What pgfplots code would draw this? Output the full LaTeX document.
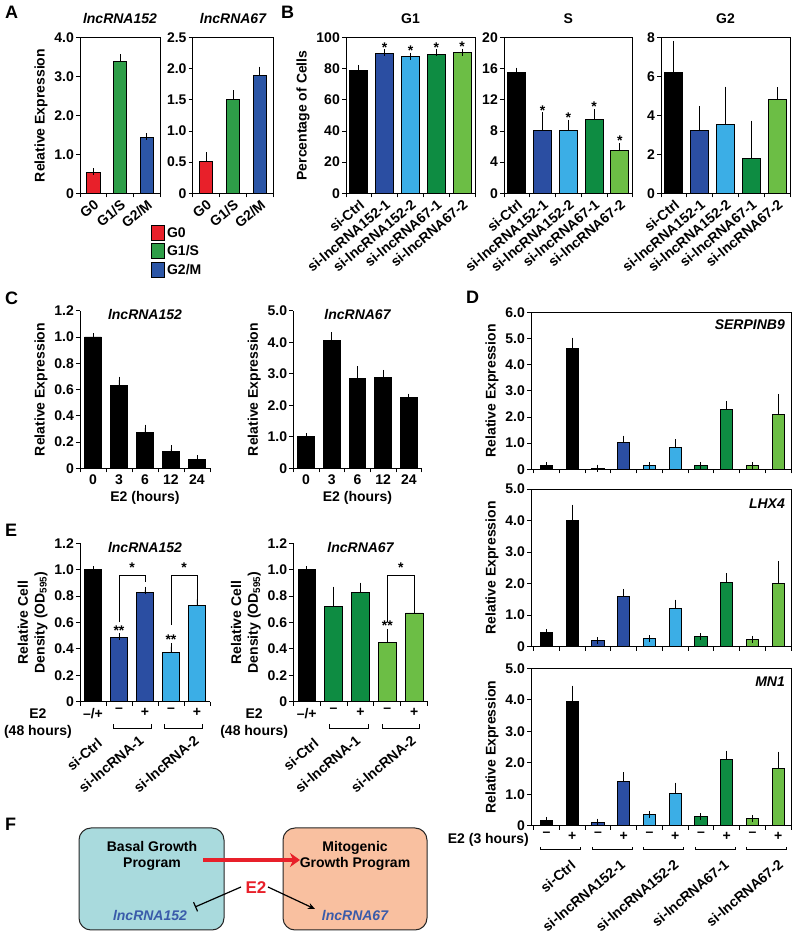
\documentclass[border=0pt]{standalone}
\usepackage{fontspec}
\setmainfont{Liberation Sans}
\usepackage{pgfplots}
\pgfplotsset{compat=1.18}
\usetikzlibrary{arrows.meta}
\definecolor{cRed}{HTML}{E8202A}
\definecolor{cGrA}{HTML}{2E9E48}
\definecolor{cBlA}{HTML}{2C56A6}
\definecolor{cDB}{HTML}{2B4EA2}
\definecolor{cLB}{HTML}{3BAEE6}
\definecolor{cDG}{HTML}{0E8C42}
\definecolor{cLG}{HTML}{6CBE45}
\definecolor{cTeal}{HTML}{A9DADD}
\definecolor{cPeach}{HTML}{F9C0A0}
\definecolor{cTxt}{HTML}{3A5BAA}
\pgfplotsset{
 base/.style={scale only axis, clip=false, ymin=0,
   tick align=outside, major tick length=4pt,
   every tick/.style={black, line width=0.9pt},
   axis line style={line width=0.9pt},
   xtick pos=left, ytick pos=left,
   x tick label as interval,
   xticklabel style={inner sep=2pt},
   yticklabel style={inner sep=2pt},
   /pgf/number format/assume math mode=true,
   title style={yshift=3pt},
 },
 open/.style={axis x line*=bottom, axis y line*=left},
 rot/.style={xticklabel style={rotate=40, anchor=north east, inner sep=1pt}},
 bs/.style={ybar, bar width=#1, bar shift=0pt, draw=black, line width=0.9pt,
   error bars/y dir=plus, error bars/y explicit,
   error bars/error bar style={line width=0.9pt,black},
   error bars/error mark options={line width=0.9pt, black, mark size=3.5pt}},
}
\begin{document}
\fontsize{14}{16.8}\selectfont\bfseries
\begin{tikzpicture}
\useasboundingbox (0pt,0pt) rectangle (800pt,947pt);
\tikzset{plab/.style={anchor=north west, inner sep=0pt, font=\fontsize{18}{20}\selectfont\bfseries}}
\node[plab] at (5pt,941pt) {A};
\node[plab] at (281pt,941pt) {B};
\node[plab] at (5pt,655pt) {C};
\node[plab] at (466pt,656pt) {D};
\node[plab] at (5pt,423pt) {E};
\node[plab] at (5pt,129pt) {F};

% ---------------- A ----------------
\begin{axis}[base, rot, at={(80pt,753.7pt)}, width=80pt, height=155.6pt,
  xmin=-0.5, xmax=2.5, ymax=4,
  ytick={0,1,2,3,4}, yticklabels={0,1.0,2.0,3.0,4.0},
  xtick={-0.5,0.5,1.5,2.5}, xticklabels={G0,G1/S,G2/M},
  ylabel={Relative Expression},
  title={\itshape lncRNA152},
  legend style={at={(0.85,-0.19)}, anchor=north west, draw=none, fill=none, row sep=2pt, legend cell align=left},
  legend image code/.code={\draw[#1,draw=black,line width=0.9pt] (0pt,-7pt) rectangle (13pt,8pt);}]
\addplot[bs=0.5, fill=cRed] table[x=x,y=y,y error=e,row sep=\\]{x y e\\0 0.53 0.02\\};
\addlegendentry{G0}
\addplot[bs=0.5, fill=cGrA] table[x=x,y=y,y error=e,row sep=\\]{x y e\\1 3.38 0.10\\};
\addlegendentry{G1/S}
\addplot[bs=0.5, fill=cBlA] table[x=x,y=y,y error=e,row sep=\\]{x y e\\2 1.44 0.01\\};
\addlegendentry{G2/M}
\end{axis}
\begin{axis}[base, rot, at={(192.7pt,753.7pt)}, width=80.6pt, height=155.6pt,
  xmin=-0.5, xmax=2.5, ymax=2.5,
  ytick={0,0.5,1,1.5,2,2.5}, yticklabels={0,0.5,1.0,1.5,2.0,2.5},
  xtick={-0.5,0.5,1.5,2.5}, xticklabels={G0,G1/S,G2/M},
  title={\itshape lncRNA67}]
\addplot[bs=0.5, fill=cRed] table[x=x,y=y,y error=e,row sep=\\]{x y e\\0 0.51 0.09\\};
\addplot[bs=0.5, fill=cGrA] table[x=x,y=y,y error=e,row sep=\\]{x y e\\1 1.51 0.09\\};
\addplot[bs=0.5, fill=cBlA] table[x=x,y=y,y error=e,row sep=\\]{x y e\\2 1.89 0.09\\};
\end{axis}

% ---------------- B ----------------
\pgfplotsset{bstyle/.style={base, rot, width=129pt, height=155.6pt, xmin=-0.5, xmax=4.5,
  xtick={-0.5,0.5,1.5,2.5,3.5,4.5},
  xticklabels={si-Ctrl,si-lncRNA152-1,si-lncRNA152-2,si-lncRNA67-1,si-lncRNA67-2}}}
\begin{axis}[bstyle, at={(346pt,753.7pt)}, ymax=100, ytick={0,20,40,60,80,100},
  yticklabels={0,20,40,60,80,100}, ylabel={Percentage of Cells}, title={G1}]
\addplot[bs=0.7, fill=black] table[x=x,y=y,y error=e,row sep=\\]{x y e\\0 79.2 1.1\\};
\addplot[bs=0.7, fill=cDB] table[x=x,y=y,y error=e,row sep=\\]{x y e\\1 89.9 0.4\\};
\addplot[bs=0.7, fill=cLB] table[x=x,y=y,y error=e,row sep=\\]{x y e\\2 87.7 0.4\\};
\addplot[bs=0.7, fill=cDG] table[x=x,y=y,y error=e,row sep=\\]{x y e\\3 89.2 1.2\\};
\addplot[bs=0.7, fill=cLG] table[x=x,y=y,y error=e,row sep=\\]{x y e\\4 90.2 0.5\\};
\node[anchor=base, inner sep=0pt] at (axis cs:1,90.6) {*};
\node[anchor=base, inner sep=0pt] at (axis cs:2,88.4) {*};
\node[anchor=base, inner sep=0pt] at (axis cs:3,90.6) {*};
\node[anchor=base, inner sep=0pt] at (axis cs:4,90.9) {*};
\end{axis}
\begin{axis}[bstyle, at={(504pt,753.7pt)}, width=128.7pt, ymax=20, ytick={0,4,8,12,16,20},
  yticklabels={0,4,8,12,16,20}, title={S}]
\addplot[bs=0.7, fill=black] table[x=x,y=y,y error=e,row sep=\\]{x y e\\0 15.5 0.2\\};
\addplot[bs=0.7, fill=cDB] table[x=x,y=y,y error=e,row sep=\\]{x y e\\1 8.14 1.8\\};
\addplot[bs=0.7, fill=cLB] table[x=x,y=y,y error=e,row sep=\\]{x y e\\2 8.14 0.86\\};
\addplot[bs=0.7, fill=cDG] table[x=x,y=y,y error=e,row sep=\\]{x y e\\3 9.55 0.8\\};
\addplot[bs=0.7, fill=cLG] table[x=x,y=y,y error=e,row sep=\\]{x y e\\4 5.57 0.43\\};
\node[anchor=base, inner sep=0pt] at (axis cs:1,10.0) {*};
\node[anchor=base, inner sep=0pt] at (axis cs:2,9.1) {*};
\node[anchor=base, inner sep=0pt] at (axis cs:3,10.45) {*};
\node[anchor=base, inner sep=0pt] at (axis cs:4,6.1) {*};
\end{axis}
\begin{axis}[bstyle, at={(661pt,753.7pt)}, ymax=8, ytick={0,2,4,6,8},
  yticklabels={0,2,4,6,8}, title={G2}]
\addplot[bs=0.7, fill=black] table[x=x,y=y,y error=e,row sep=\\]{x y e\\0 6.22 1.44\\};
\addplot[bs=0.7, fill=cDB] table[x=x,y=y,y error=e,row sep=\\]{x y e\\1 3.25 1.07\\};
\addplot[bs=0.7, fill=cLB] table[x=x,y=y,y error=e,row sep=\\]{x y e\\2 3.53 1.78\\};
\addplot[bs=0.7, fill=cDG] table[x=x,y=y,y error=e,row sep=\\]{x y e\\3 1.78 1.78\\};
\addplot[bs=0.7, fill=cLG] table[x=x,y=y,y error=e,row sep=\\]{x y e\\4 4.80 0.46\\};
\end{axis}

% ---------------- C ----------------
\pgfplotsset{cstyle/.style={base, open, height=157.6pt, xmin=-0.5, xmax=4.5,
  xtick={-0.5,0.5,1.5,2.5,3.5,4.5}, xticklabels={0,3,6,12,24},
  xlabel={E2 (hours)}, ylabel={Relative Expression},
  title style={at={(0.5,0.98)}, anchor=north, yshift=0pt}}}
\begin{axis}[cstyle, at={(80pt,478.7pt)}, width=130pt, ymax=1.2,
  ytick={0,0.2,0.4,0.6,0.8,1,1.2}, yticklabels={0,0.2,0.4,0.6,0.8,1.0,1.2},
  title={\itshape lncRNA152}]
\addplot[bs=0.65, fill=black] table[x=x,y=y,y error=e,row sep=\\]{x y e\\0 1.0 0\\1 0.634 0.038\\2 0.271 0.034\\3 0.127 0.02\\4 0.068 0.003\\};
\end{axis}
\begin{axis}[cstyle, at={(293.3pt,478.7pt)}, width=128.4pt, ymax=5,
  ytick={0,1,2,3,4,5}, yticklabels={0,1.0,2.0,3.0,4.0,5.0},
  title={\itshape lncRNA67}]
\addplot[bs=0.65, fill=black] table[x=x,y=y,y error=e,row sep=\\]{x y e\\0 1.0 0\\1 4.05 0.16\\2 2.86 0.26\\3 2.89 0.12\\4 2.25 0.01\\};
\end{axis}

% ---------------- E ----------------
\pgfplotsset{estyle/.style={base, open, height=158.4pt, xmin=-0.5, xmax=4.5, ymax=1.2,
  ytick={0,0.2,0.4,0.6,0.8,1,1.2}, yticklabels={0,0.2,0.4,0.6,0.8,1.0,1.2},
  xtick={-0.5,0.5,1.5,2.5,3.5,4.5}, xticklabels={--/+,--,+,--,+},
  ylabel={Relative Cell\\Density (OD\textsubscript{595})}, ylabel style={align=center},
  title style={at={(0.5,0.98)}, anchor=north, yshift=0pt}}}
\begin{axis}[estyle, at={(80pt,245.3pt)}, width=130pt, title={\itshape lncRNA152}]
\addplot[bs=0.65, fill=black] table[x=x,y=y,y error=e,row sep=\\]{x y e\\0 1.0 0\\};
\addplot[bs=0.65, fill=cDB] table[x=x,y=y,y error=e,row sep=\\]{x y e\\1 0.487 0.004\\2 0.826 0.02\\};
\addplot[bs=0.65, fill=cLB] table[x=x,y=y,y error=e,row sep=\\]{x y e\\3 0.374 0.043\\4 0.732 0.043\\};
\node[anchor=base, inner sep=0pt] at (axis cs:1,0.505) {**};
\node[anchor=base, inner sep=0pt] at (axis cs:3,0.43) {**};
\draw[line width=0.9pt] (axis cs:1.02,0.6) -- (axis cs:1.02,0.96) -- (axis cs:2,0.96) -- (axis cs:2,0.91);
\draw[line width=0.9pt] (axis cs:3.02,0.58) -- (axis cs:3.02,0.96) -- (axis cs:4,0.96) -- (axis cs:4,0.785);
\node[anchor=base, inner sep=0pt] at (axis cs:1.5,0.975) {*};
\node[anchor=base, inner sep=0pt] at (axis cs:3.5,0.975) {*};
\node[anchor=north east, align=center, inner sep=0pt] at (axis cs:-0.81,-0.055) {E2\\(48 hours)};
\draw[line width=0.9pt] (axis cs:0.8,-0.17) -- (axis cs:0.8,-0.2) -- (axis cs:2.25,-0.2) -- (axis cs:2.25,-0.17);
\draw[line width=0.9pt] (axis cs:2.75,-0.17) -- (axis cs:2.75,-0.2) -- (axis cs:4.2,-0.2) -- (axis cs:4.2,-0.17);
\node[rotate=40, anchor=north east, inner sep=1pt] at (axis cs:0.14,-0.26) {si-Ctrl};
\node[rotate=40, anchor=north east, inner sep=1pt] at (axis cs:1.74,-0.235) {si-lncRNA-1};
\node[rotate=40, anchor=north east, inner sep=1pt] at (axis cs:3.86,-0.235) {si-lncRNA-2};
\end{axis}
\begin{axis}[estyle, at={(293.3pt,245.3pt)}, width=134.4pt, title={\itshape lncRNA67}]
\addplot[bs=0.65, fill=black] table[x=x,y=y,y error=e,row sep=\\]{x y e\\0 1.0 0\\};
\addplot[bs=0.65, fill=cDG] table[x=x,y=y,y error=e,row sep=\\]{x y e\\1 0.72 0.126\\2 0.831 0.045\\};
\addplot[bs=0.65, fill=cLG] table[x=x,y=y,y error=e,row sep=\\]{x y e\\3 0.449 0.076\\4 0.672 0.075\\};
\node[anchor=base, inner sep=0pt] at (axis cs:3,0.54) {**};
\draw[line width=0.9pt] (axis cs:3.02,0.6) -- (axis cs:3.02,0.96) -- (axis cs:4,0.96) -- (axis cs:4,0.757);
\node[anchor=base, inner sep=0pt] at (axis cs:3.5,0.975) {*};
\node[anchor=north east, align=center, inner sep=0pt] at (axis cs:-0.69,-0.055) {E2\\(48 hours)};
\draw[line width=0.9pt] (axis cs:0.85,-0.17) -- (axis cs:0.85,-0.2) -- (axis cs:2.3,-0.2) -- (axis cs:2.3,-0.17);
\draw[line width=0.9pt] (axis cs:2.8,-0.17) -- (axis cs:2.8,-0.2) -- (axis cs:4.2,-0.2) -- (axis cs:4.2,-0.17);
\node[rotate=40, anchor=north east, inner sep=1pt] at (axis cs:0.24,-0.26) {si-Ctrl};
\node[rotate=40, anchor=north east, inner sep=1pt] at (axis cs:1.79,-0.235) {si-lncRNA-1};
\node[rotate=40, anchor=north east, inner sep=1pt] at (axis cs:3.86,-0.235) {si-lncRNA-2};
\end{axis}

% ---------------- D ----------------
\pgfplotsset{dstyle/.style={base, width=260pt, xmin=-0.6, xmax=9.5,
  xtick={-0.5,0.5,...,9.5}, ylabel={Relative Expression}}}
\begin{axis}[dstyle, at={(531pt,477.7pt)}, height=157pt, ymax=6, xticklabels={,,,,,,,,,},
  ytick={0,1,2,3,4,5,6}, yticklabels={0,1.0,2.0,3.0,4.0,5.0,6.0}]
\addplot[bs=0.47, fill=black] table[x=x,y=y,y error=e,row sep=\\]{x y e\\0 0.14 0\\1 4.6 0.3\\};
\addplot[bs=0.47, fill=cDB] table[x=x,y=y,y error=e,row sep=\\]{x y e\\2 0.04 0\\3 1.03 0.12\\};
\addplot[bs=0.47, fill=cLB] table[x=x,y=y,y error=e,row sep=\\]{x y e\\4 0.13 0\\5 0.84 0.18\\};
\addplot[bs=0.47, fill=cDG] table[x=x,y=y,y error=e,row sep=\\]{x y e\\6 0.14 0\\7 2.29 0.19\\};
\addplot[bs=0.47, fill=cLG] table[x=x,y=y,y error=e,row sep=\\]{x y e\\8 0.15 0\\9 2.08 0.67\\};
\node[anchor=east, inner sep=0pt] at (rel axis cs:0.977,0.92) {\itshape SERPINB9};
\end{axis}
\begin{axis}[dstyle, at={(531pt,300.3pt)}, height=157.7pt, ymax=5, xticklabels={,,,,,,,,,},
  ytick={0,1,2,3,4,5}, yticklabels={0,1.0,2.0,3.0,4.0,5.0}]
\addplot[bs=0.47, fill=black] table[x=x,y=y,y error=e,row sep=\\]{x y e\\0 0.44 0\\1 3.99 0.4\\};
\addplot[bs=0.47, fill=cDB] table[x=x,y=y,y error=e,row sep=\\]{x y e\\2 0.19 0\\3 1.59 0.13\\};
\addplot[bs=0.47, fill=cLB] table[x=x,y=y,y error=e,row sep=\\]{x y e\\4 0.25 0\\5 1.2 0.18\\};
\addplot[bs=0.47, fill=cDG] table[x=x,y=y,y error=e,row sep=\\]{x y e\\6 0.31 0\\7 2.03 0.18\\};
\addplot[bs=0.47, fill=cLG] table[x=x,y=y,y error=e,row sep=\\]{x y e\\8 0.23 0\\9 2.01 0.6\\};
\node[anchor=east, inner sep=0pt] at (rel axis cs:0.977,0.91) {\itshape LHX4};
\end{axis}
\begin{axis}[dstyle, at={(531pt,121.3pt)}, height=157.4pt, ymax=5,
  xticklabels={--,+,--,+,--,+,--,+,--,+},
  ytick={0,1,2,3,4,5}, yticklabels={0,1.0,2.0,3.0,4.0,5.0}]
\addplot[bs=0.47, fill=black] table[x=x,y=y,y error=e,row sep=\\]{x y e\\0 0.17 0\\1 3.95 0.39\\};
\addplot[bs=0.47, fill=cDB] table[x=x,y=y,y error=e,row sep=\\]{x y e\\2 0.11 0\\3 1.41 0.17\\};
\addplot[bs=0.47, fill=cLB] table[x=x,y=y,y error=e,row sep=\\]{x y e\\4 0.35 0\\5 1.03 0.23\\};
\addplot[bs=0.47, fill=cDG] table[x=x,y=y,y error=e,row sep=\\]{x y e\\6 0.28 0\\7 2.09 0.18\\};
\addplot[bs=0.47, fill=cLG] table[x=x,y=y,y error=e,row sep=\\]{x y e\\8 0.23 0\\9 1.82 0.42\\};
\node[anchor=east, inner sep=0pt] at (rel axis cs:0.977,0.915) {\itshape MN1};
\node[anchor=east, inner sep=0pt] at (axis cs:-0.68,-0.45) {E2 (3 hours)};
\draw[line width=0.9pt] (axis cs:-0.22,-0.67) -- (axis cs:-0.22,-0.77) -- (axis cs:1.34,-0.77) -- (axis cs:1.34,-0.67);
\draw[line width=0.9pt] (axis cs:1.78,-0.67) -- (axis cs:1.78,-0.77) -- (axis cs:3.34,-0.77) -- (axis cs:3.34,-0.67);
\draw[line width=0.9pt] (axis cs:3.78,-0.67) -- (axis cs:3.78,-0.77) -- (axis cs:5.34,-0.77) -- (axis cs:5.34,-0.67);
\draw[line width=0.9pt] (axis cs:5.78,-0.67) -- (axis cs:5.78,-0.77) -- (axis cs:7.34,-0.77) -- (axis cs:7.34,-0.67);
\draw[line width=0.9pt] (axis cs:7.78,-0.67) -- (axis cs:7.78,-0.77) -- (axis cs:9.34,-0.77) -- (axis cs:9.34,-0.67);
\node[rotate=40, anchor=north east, inner sep=1pt] at (axis cs:0.92,-1.02) {si-Ctrl};
\node[rotate=40, anchor=north east, inner sep=1pt] at (axis cs:2.85,-0.98) {si-lncRNA152-1};
\node[rotate=40, anchor=north east, inner sep=1pt] at (axis cs:4.92,-0.98) {si-lncRNA152-2};
\node[rotate=40, anchor=north east, inner sep=1pt] at (axis cs:6.88,-0.98) {si-lncRNA67-1};
\node[rotate=40, anchor=north east, inner sep=1pt] at (axis cs:8.98,-0.98) {si-lncRNA67-2};
\end{axis}

% ---------------- F ----------------
\begin{scope}[x=1pt,y=1pt]
\draw[fill=cTeal, draw=black!85, line width=1pt, rounded corners=12pt] (79,17) rectangle (224,119);
\draw[fill=cPeach, draw=black!85, line width=1pt, rounded corners=12pt] (283,17) rectangle (427,119);
\node[align=center] at (152,91) {Basal Growth\\Program};
\node[align=center] at (355,91) {Mitogenic\\Growth Program};
\draw[cRed, line width=3.2pt, -{Stealth[length=10pt,width=14pt]}] (203,87) -- (300,87);
\node[text=cRed, font=\fontsize{17}{19}\selectfont\bfseries] at (256,59) {E2};
\draw[line width=1.2pt, -{Bar[width=10pt]}] (241,60) -- (195,40);
\draw[line width=1.2pt, -{Stealth[length=7pt,width=6pt]}] (268,60) -- (315,38);
\node[text=cTxt] at (150,32) {\itshape lncRNA152};
\node[text=cTxt] at (355,32) {\itshape lncRNA67};
\end{scope}
\end{tikzpicture}
\end{document}
